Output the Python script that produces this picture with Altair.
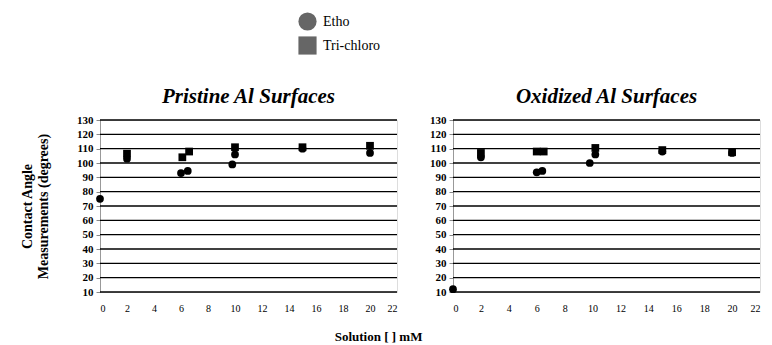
import altair as alt
import pandas as pd

series_names = ["Etho", "Tri-chloro"]

# Pristine Al surfaces
pri_etho_x = [0, 2, 6, 6.5, 9.8, 10, 15, 20]
pri_etho_y = [75, 103, 93, 94.5, 99, 106, 110, 107]
pri_tri_x = [2, 6.1, 6.6, 10, 15, 20]
pri_tri_y = [106.5, 104, 108, 111, 111, 112]

# Oxidized Al surfaces
oxi_etho_x = [0, 2, 6, 6.4, 9.8, 10.2, 15, 20]
oxi_etho_y = [12, 104, 93.5, 94.5, 100, 106, 108, 107]
oxi_tri_x = [2, 6, 6.5, 10.2, 15, 20]
oxi_tri_y = [107, 108, 108, 110.5, 109, 107.5]

y_ticks = list(range(10, 131, 10))
x_ticks = list(range(0, 23, 2))

SERIF = "Liberation Serif"


def make_df(ex, ey, tx, ty):
    rows = [{"x": a, "y": b, "s": series_names[0]} for a, b in zip(ex, ey)]
    rows += [{"x": a, "y": b, "s": series_names[1]} for a, b in zip(tx, ty)]
    return pd.DataFrame(rows)


def panel(df, title, w, show_ytitle):
    grid_df = pd.DataFrame({"g": y_ticks})
    yscale = alt.Scale(domain=[10, 130], nice=False, zero=False)
    xscale = alt.Scale(domain=[0, 22], nice=False, zero=False)
    yaxis = alt.Axis(values=y_ticks, grid=False, labelOverlap=False,
                     title=["Contact Angle", "Measurements (degrees)"] if show_ytitle else None,
                     titleFont=SERIF, titleFontSize=14, titleFontWeight="bold",
                     titleColor="black", titlePadding=26, titleLineHeight=16,
                     labelFont=SERIF, labelFontSize=11, labelFontWeight="bold",
                     labelColor="black", tickColor="#888", tickSize=4,
                     domainColor="#999", labelPadding=3)
    grid = alt.Chart(grid_df).mark_rule(color="black", strokeWidth=1.3).encode(
        y=alt.Y("g:Q", scale=yscale, axis=yaxis),
    )
    pts = alt.Chart(df).mark_point(filled=True, color="black", opacity=1, size=60).encode(
        x=alt.X("x:Q", scale=xscale,
                axis=alt.Axis(values=x_ticks, grid=False, title=None, ticks=False,
                              domain=False, labelFont=SERIF, labelFontSize=10,
                              labelColor="black", labelPadding=11)),
        y=alt.Y("y:Q", scale=yscale, axis=yaxis),
        shape=alt.Shape("s:N", scale=alt.Scale(domain=series_names, range=["circle", "square"]),
                        legend=alt.Legend(title=None, orient="none", legendX=198, legendY=-108,
                                          symbolSize=330, symbolOpacity=0.6,
                                          labelFont=SERIF, labelFontSize=14, labelColor="black",
                                          labelOffset=6, rowPadding=5, symbolStrokeWidth=0)),
    )
    return alt.layer(grid, pts).properties(
        width=w, height=172,
        title=alt.TitleParams(title, font=SERIF, fontSize=21, fontStyle="italic",
                              fontWeight="bold", color="black", offset=7),
    )


left = panel(make_df(pri_etho_x, pri_etho_y, pri_tri_x, pri_tri_y), "Pristine Al Surfaces", 297, True)
right = panel(make_df(oxi_etho_x, oxi_etho_y, oxi_tri_x, oxi_tri_y), "Oxidized Al Surfaces", 307, False)

chart = alt.hconcat(left, right, spacing=30).resolve_legend(shape="shared").properties(
    title=alt.TitleParams("Solution [ ] mM", orient="bottom", anchor="middle", font=SERIF,
                          fontSize=13, fontWeight="bold", color="black", offset=17, dx=-12),
    padding={"left": 20, "top": 12, "right": 5, "bottom": 2},
).configure_view(stroke="black", strokeWidth=1.2).configure(background="white")

chart.save("out.html", embed_options={"renderer": "svg", "actions": False})
